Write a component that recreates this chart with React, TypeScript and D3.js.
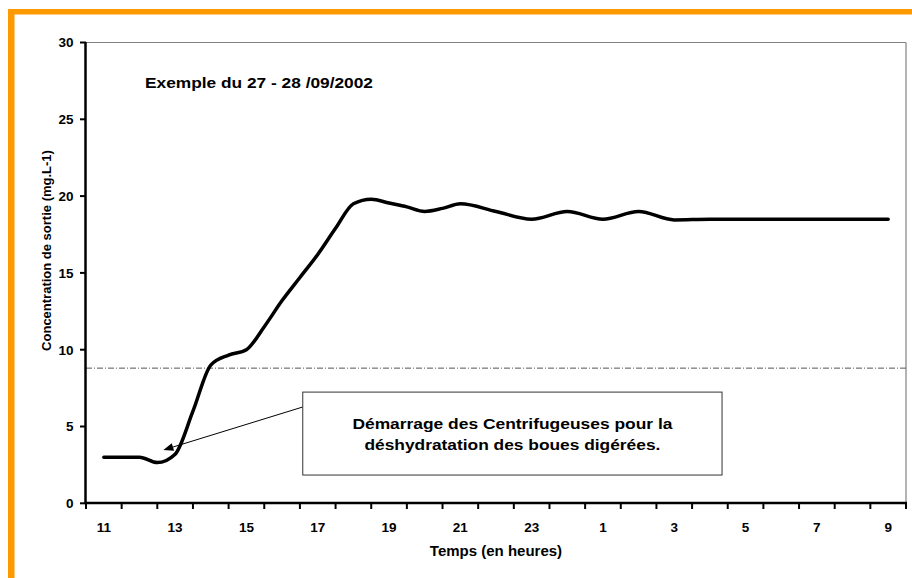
import React from "react";
import * as d3 from "d3";

const hours = [11, 11.5, 12, 12.5, 13, 13.5, 14, 14.5, 15, 15.5, 16, 16.5, 17, 17.5, 18, 18.5, 19, 19.5, 20, 20.5, 21, 22, 23, 24, 25, 26, 27, 28, 29, 30, 31, 32, 33];
const concentration = [3.0, 3.0, 3.0, 2.65, 3.2, 6.0, 9.0, 9.65, 10.0, 11.5, 13.2, 14.7, 16.2, 17.9, 19.5, 19.8, 19.55, 19.3, 19.0, 19.2, 19.5, 19.0, 18.5, 19.0, 18.5, 19.0, 18.45, 18.5, 18.5, 18.5, 18.5, 18.5, 18.5];
const xTickLabels = [11, 13, 15, 17, 19, 21, 23, 25, 27, 29, 31, 33];
const yTicks = [0, 5, 10, 15, 20, 25, 30];
const threshold = 8.8;
const title = "Exemple du 27 - 28 /09/2002";
const xTitle = "Temps (en heures)";
const yTitle = "Concentration de sortie (mg.L-1)";
const noteLines = ["Démarrage des Centrifugeuses pour la", "déshydratation des boues digérées."];
// annotation box / arrow in data coordinates
const noteBox = { h0: 16.58, h1: 28.34, v0: 1.84, v1: 7.24 };
const arrowFrom = { h: 16.58, v: 6.27 };
const arrowTo = { h: 12.67, v: 3.47 };

export default function App() {
  const W = 912, H = 578;
  const x = d3.scaleLinear().domain([10.5, 33.5]).range([86, 906]);
  const y = d3.scaleLinear().domain([0, 30]).range([503.3, 42.5]);
  const line = d3.line<number>()
    .x((_, i) => x(hours[i]))
    .y((d) => y(d))
    .curve(d3.curveMonotoneX);
  const tickBounds = d3.range(10.5, 33.6, 1);
  const font = "'Liberation Sans', Arial, sans-serif";

  const ax1 = x(arrowFrom.h), ay1 = y(arrowFrom.v);
  const ax2 = x(arrowTo.h), ay2 = y(arrowTo.v);
  const ang = Math.atan2(ay2 - ay1, ax2 - ax1);
  const hl = 10, hw = 4;
  const bx = ax2 - hl * Math.cos(ang), by = ay2 - hl * Math.sin(ang);
  const head = `M${ax2},${ay2}L${bx + hw * Math.sin(ang)},${by - hw * Math.cos(ang)}L${bx - hw * Math.sin(ang)},${by + hw * Math.cos(ang)}Z`;

  const bX0 = x(noteBox.h0), bX1 = x(noteBox.h1), bY0 = y(noteBox.v1), bY1 = y(noteBox.v0);

  return (
    <svg width={W} height={H} style={{ position: "absolute", left: 0, top: 0, background: "#fff" }} fontFamily={font}>
      <rect x={0} y={0} width={W} height={H} fill="#fff" />
      {/* orange frame */}
      <rect x={8} y={9} width={W - 8} height={5.5} fill="#FF9900" />
      <rect x={8} y={9} width={6.5} height={H - 9} fill="#FF9900" />
      {/* plot border */}
      <line x1={86} x2={906} y1={42.5} y2={42.5} stroke="#808080" strokeWidth={1.2} />
      <line x1={906} x2={906} y1={42.5} y2={503} stroke="#808080" strokeWidth={1.2} />
      {/* threshold */}
      <line x1={86} x2={906} y1={y(threshold)} y2={y(threshold)} stroke="#555" strokeWidth={1} strokeDasharray="6,2,1,2" />
      {/* y axis */}
      <line x1={85.5} x2={85.5} y1={42} y2={504} stroke="#000" strokeWidth={2.5} />
      {yTicks.map((t) => (
        <g key={t}>
          <line x1={80} x2={86} y1={y(t)} y2={y(t)} stroke="#000" strokeWidth={2} />
          <text x={73.5} y={y(t) + 4.8} textAnchor="end" fontSize={13.5} fontWeight="bold" fill="#000">{t}</text>
        </g>
      ))}
      {/* x axis */}
      <line x1={84.5} x2={907} y1={503} y2={503} stroke="#000" strokeWidth={2.5} />
      {tickBounds.map((t) => (
        <line key={t} x1={x(t)} x2={x(t)} y1={503} y2={509} stroke="#000" strokeWidth={2} />
      ))}
      {xTickLabels.map((h) => (
        <text key={h} x={x(h)} y={532} textAnchor="middle" fontSize={13.5} fontWeight="bold" fill="#000">{h % 24}</text>
      ))}
      {/* titles */}
      <text x={496} y={556} textAnchor="middle" fontSize={15} fontWeight="bold" fill="#000">{xTitle}</text>
      <text transform={`translate(51,250.5) rotate(-90)`} textAnchor="middle" fontSize={13} fontWeight="bold" fill="#000">{yTitle}</text>
      <text x={145} y={88} fontSize={15.5} fontWeight="bold" fill="#000" textLength={228} lengthAdjust="spacingAndGlyphs">{title}</text>
      {/* data line */}
      <path d={line(concentration) || ""} fill="none" stroke="#000" strokeWidth={3.5} strokeLinejoin="round" strokeLinecap="round" />
      {/* annotation */}
      <line x1={ax1} y1={ay1} x2={bx} y2={by} stroke="#000" strokeWidth={1} />
      <path d={head} fill="#000" />
      <rect x={bX0} y={bY0} width={bX1 - bX0} height={bY1 - bY0} fill="#fff" stroke="#333" strokeWidth={1} />
      <text x={(bX0 + bX1) / 2} y={429} textAnchor="middle" fontSize={15} fontWeight="bold" fill="#000" textLength={320} lengthAdjust="spacingAndGlyphs">{noteLines[0]}</text>
      <text x={(bX0 + bX1) / 2} y={450} textAnchor="middle" fontSize={15} fontWeight="bold" fill="#000" textLength={296} lengthAdjust="spacingAndGlyphs">{noteLines[1]}</text>
    </svg>
  );
}
